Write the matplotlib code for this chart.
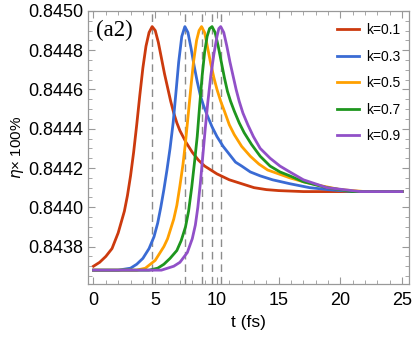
import numpy as np
import matplotlib.pyplot as plt
from matplotlib.ticker import MultipleLocator, FormatStrFormatter

plt.rcParams['font.family'] = ['Liberation Sans', 'DejaVu Sans']

# values (t in fs, eta x 100%)
labels = ["k=0.1", "k=0.3", "k=0.5", "k=0.7", "k=0.9"]
colors = ["#cc3a0e", "#3a6bd4", "#ffa000", "#1e961e", "#9150c8"]
peak_t = [4.75, 7.4, 8.75, 9.6, 10.3]

t_k01 = [0, 0.5, 1.0, 1.5, 2.0, 2.5, 2.75, 3.0, 3.25, 3.5, 3.75, 4.0, 4.25,
         4.5, 4.75, 5.0, 5.25, 5.5, 5.75, 6.0, 6.25, 6.5, 6.75, 7.0, 7.5,
         8.0, 8.5, 9.0, 10, 11, 12, 13, 14, 15, 17, 19, 21, 25]
eta_k01 = [0.84370, 0.84372, 0.84375, 0.84379, 0.84387, 0.84398, 0.84406,
           0.84416, 0.84428, 0.84442, 0.84457, 0.84471, 0.84482, 0.84489,
           0.84492, 0.84490, 0.84484, 0.84476, 0.84468, 0.84461, 0.84454,
           0.84448, 0.84443, 0.84439, 0.84433, 0.84428, 0.84424, 0.84421,
           0.84417, 0.84414, 0.84412, 0.84410, 0.84409, 0.844085, 0.84408,
           0.84408, 0.84408, 0.84408]

t_k03 = [0, 1, 2, 3, 3.5, 4.0, 4.5, 4.9, 5.2, 5.45, 5.7, 5.95, 6.2, 6.45,
         6.7, 6.9, 7.15, 7.4, 7.65, 7.9, 8.15, 8.4, 8.65, 8.9, 9.2, 9.6,
         10.0, 10.5, 11.0, 11.5, 12.0, 12.7, 13.5, 14.5, 15.9, 17.5, 19, 21,
         25]
eta_k03 = [0.84368, 0.84368, 0.84368, 0.84369, 0.84371, 0.84374, 0.84379,
           0.84385, 0.84392, 0.84400, 0.84409, 0.84419, 0.84430, 0.84443,
           0.84460, 0.84474, 0.84487, 0.84492, 0.84489, 0.84481, 0.84472,
           0.84464, 0.84457, 0.84452, 0.84447, 0.84441, 0.84436, 0.84431,
           0.84427, 0.84423, 0.84421, 0.84418, 0.84416, 0.84414, 0.84412,
           0.84410, 0.84409, 0.84408, 0.84408]

t_k05 = [0, 2, 3.5, 4.2, 4.6, 5.0, 5.4, 5.7, 6.0, 6.25, 6.5, 6.75, 7.0,
         7.25, 7.45, 7.7, 7.9, 8.1, 8.35, 8.55, 8.75, 9.0, 9.25, 9.5, 9.75,
         10.0, 10.3, 10.6, 11.0, 11.4, 12.0, 12.7, 13.4, 14.1, 15, 15.9, 17,
         18.4, 20, 22, 25]
eta_k05 = [0.84368, 0.84368, 0.84368, 0.84369, 0.84371, 0.84373, 0.84377,
           0.84380, 0.84384, 0.84389, 0.84394, 0.84401, 0.84411, 0.84422,
           0.84433, 0.84449, 0.84462, 0.84474, 0.84485, 0.84490, 0.84492,
           0.84489, 0.84481, 0.84473, 0.84466, 0.84460, 0.84454, 0.84449,
           0.84442, 0.84437, 0.84431, 0.84426, 0.84422, 0.84419, 0.84417,
           0.84415, 0.84413, 0.84411, 0.84409, 0.84408, 0.84408]

t_k07 = [0, 3, 4.5, 5.2, 5.7, 6.2, 6.75, 7.1, 7.45, 7.7, 7.95, 8.2, 8.4,
         8.6, 8.8, 9.0, 9.2, 9.4, 9.6, 9.85, 10.1, 10.35, 10.6, 10.85, 11.1,
         11.4, 11.8, 12.2, 12.8, 13.5, 14.3, 15.1, 15.9, 17, 18.9, 21, 25]
eta_k07 = [0.84368, 0.84368, 0.84368, 0.84369, 0.84371, 0.84374, 0.84378,
           0.84383, 0.84390, 0.84398, 0.84410, 0.84424, 0.84436, 0.84452,
           0.84467, 0.84479, 0.84487, 0.84491, 0.84492, 0.84489, 0.84482,
           0.84474, 0.84466, 0.84459, 0.84454, 0.84449, 0.84443, 0.84438,
           0.84432, 0.84426, 0.84421, 0.84418, 0.84416, 0.84413, 0.84410,
           0.84408, 0.84408]

t_k09 = [0, 4, 5.5, 6.5, 7.0, 7.6, 8.0, 8.25, 8.45, 8.65, 8.85, 9.05, 9.25,
         9.5, 9.75, 10.0, 10.15, 10.3, 10.55, 10.8, 11.05, 11.3, 11.55, 11.8,
         12.1, 12.5, 12.95, 13.5, 14.3, 15.1, 15.9, 17, 18.9, 21.6, 25]
eta_k09 = [0.84368, 0.84368, 0.84368, 0.84370, 0.84372, 0.84377, 0.84384,
           0.84391, 0.84400, 0.84412, 0.84426, 0.84440, 0.84453, 0.84467,
           0.84478, 0.84487, 0.84491, 0.84492, 0.84489, 0.84482, 0.84474,
           0.84467, 0.84460, 0.84454, 0.84448, 0.84442, 0.84436, 0.84430,
           0.84425, 0.84421, 0.84418, 0.84414, 0.84410, 0.84408, 0.84408]

series = [(t_k01, eta_k01), (t_k03, eta_k03), (t_k05, eta_k05),
          (t_k07, eta_k07), (t_k09, eta_k09)]

fig = plt.figure(figsize=(4.15, 3.4), dpi=100)
ax = fig.add_axes([0.2128, 0.165, 0.7727, 0.803])

ymin, ymax = 0.84361, 0.8450
# dashed guides at each peak time
for tp in peak_t:
    ax.plot([tp, tp], [ymin, ymax], color="#8c8c8c", lw=1.0,
            dashes=(5.5, 3.5), zorder=1)

for (t, eta), c, lab in zip(series, colors, labels):
    ax.plot(t, eta, color=c, lw=2.0, label=lab, zorder=2,
            solid_joinstyle="round")

ax.set_xlim(-0.42, 25.55)
ax.set_ylim(ymin, ymax)
ax.xaxis.set_major_locator(MultipleLocator(5))
ax.xaxis.set_minor_locator(MultipleLocator(1))
ax.yaxis.set_major_locator(MultipleLocator(0.0002))
ax.yaxis.set_minor_locator(MultipleLocator(0.00005))
ax.yaxis.set_major_formatter(FormatStrFormatter("%.4f"))

ax.tick_params(which="both", direction="in", top=True, right=True,
               color="#999999", labelsize=13)
ax.tick_params(which="major", length=5, width=0.8)
ax.tick_params(which="minor", length=3, width=0.6)
ax.tick_params(axis="x", pad=6)
for s in ax.spines.values():
    s.set_color("#999999")
    s.set_linewidth(0.9)

ax.set_xlabel("t (fs)", fontsize=12.5, labelpad=4)
ax.set_ylabel(r"$\eta$× 100%", fontsize=11, labelpad=2)

ax.text(0.2, 0.8449, "(a2)", family="Liberation Serif", fontsize=16.5,
        va="center", ha="left")

ax.legend(loc="upper right", bbox_to_anchor=(0.99, 0.975), frameon=False,
          fontsize=10, handlelength=1.55, labelspacing=0.9,
          handletextpad=0.5, borderaxespad=0.0)

fig.savefig("out.png", dpi=100)
